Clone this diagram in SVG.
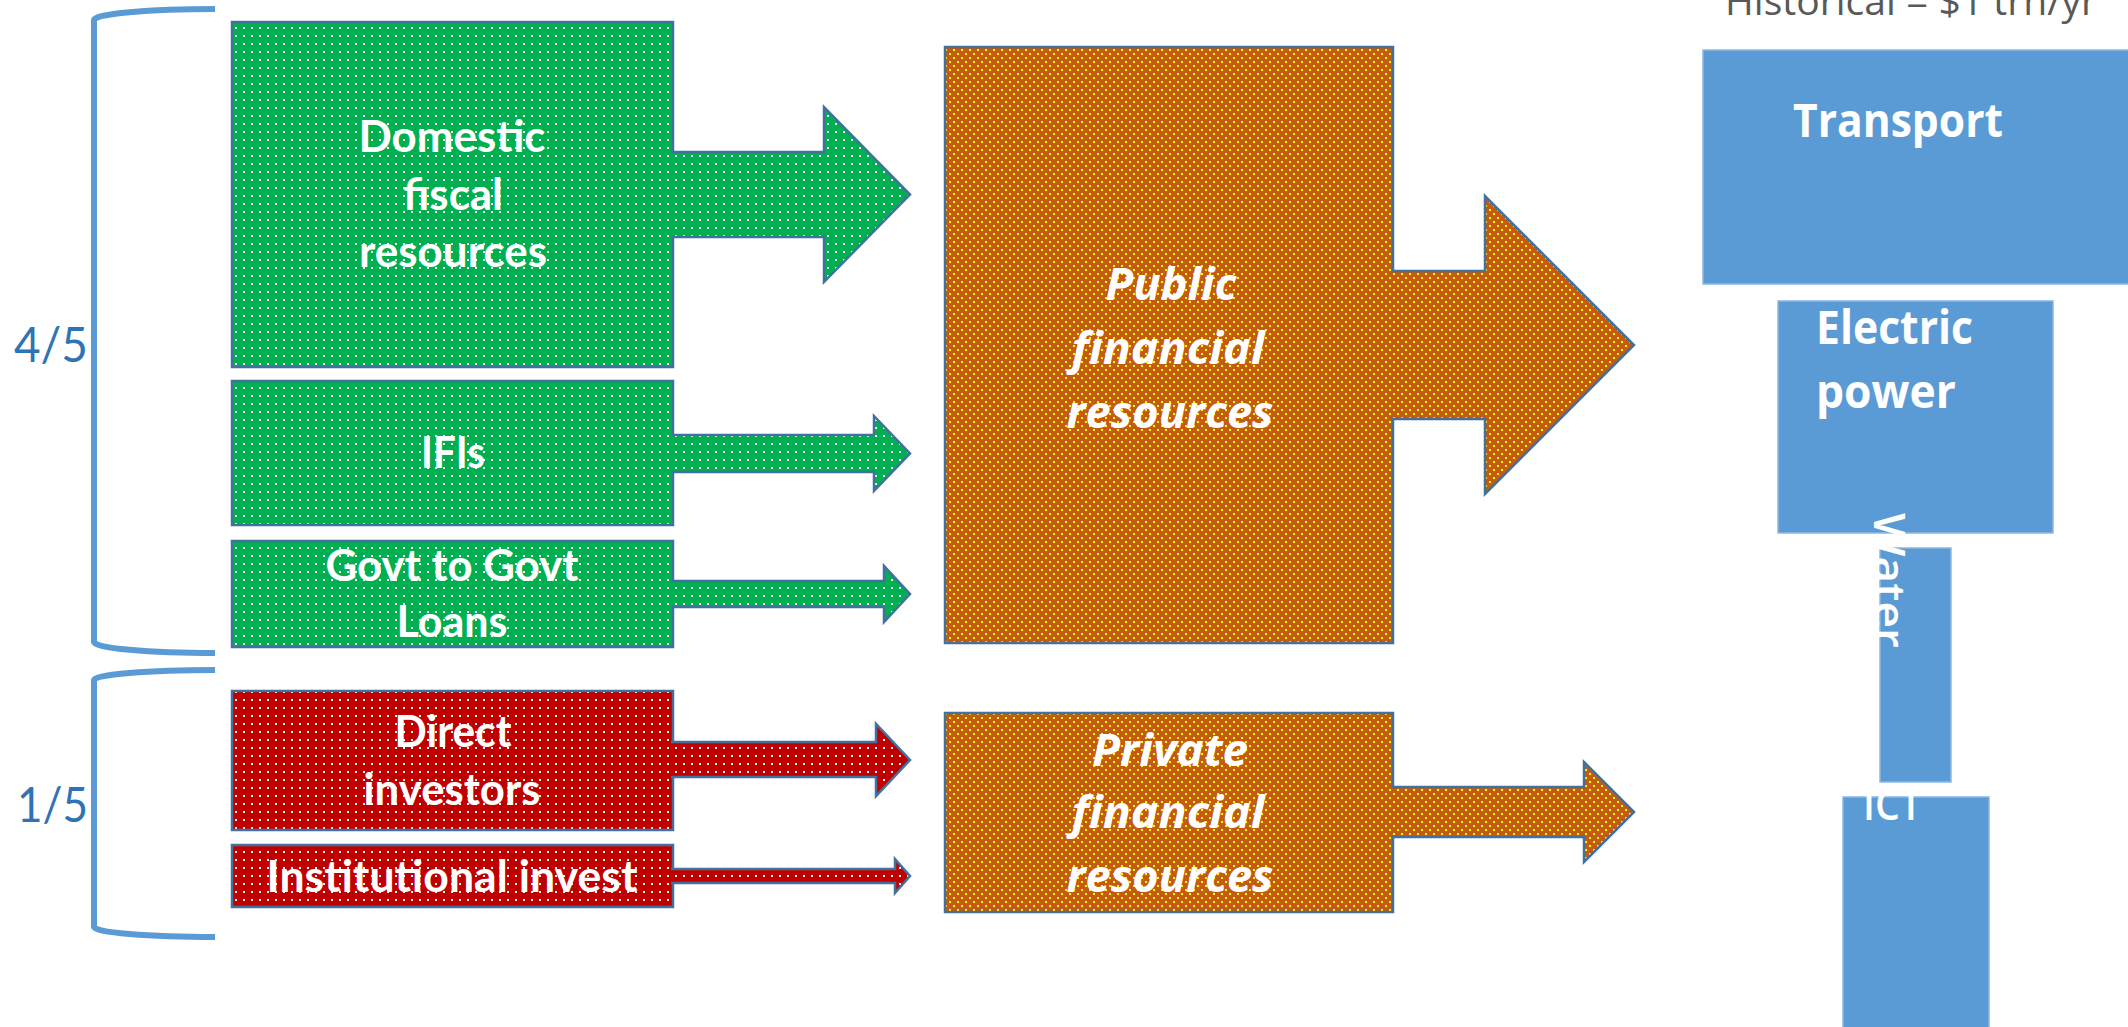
<svg xmlns="http://www.w3.org/2000/svg" width="2128" height="1027" viewBox="0 0 2128 1027">
<defs>
<pattern id="pGreen" width="8" height="8" patternUnits="userSpaceOnUse"><rect width="8" height="8" fill="#00B050"/><rect x="3" y="3" width="2" height="2" fill="#FFFFFF"/></pattern>
<pattern id="pRed" width="8" height="8" patternUnits="userSpaceOnUse"><rect width="8" height="8" fill="#C00000"/><rect x="3" y="3" width="2" height="2" fill="#FFFFFF"/></pattern>
<pattern id="pOrange" width="8" height="8" patternUnits="userSpaceOnUse"><rect width="8" height="8" fill="#C55A11"/><rect x="1" y="1" width="2" height="2" fill="#FFFF00"/><rect x="5" y="5" width="2" height="2" fill="#FFFF00"/></pattern>
</defs>
<style>
.box{stroke:#41719C;stroke-width:2.5}
.g{fill:url(#pGreen)}
.r{fill:url(#pRed)}
.o{fill:url(#pOrange)}
.arrow{stroke:#41719C;stroke-width:2.5;stroke-linejoin:miter}
.blue{fill:#5B9BD5;stroke:#8DB8E2;stroke-width:1.5}
.lt{font-family:Lato,"Liberation Sans",sans-serif;font-weight:700;font-size:44px;fill:#FFFFFF;text-anchor:middle}
.ot{font-family:"Open Sans","DejaVu Sans",sans-serif;font-weight:700;font-style:italic;font-size:44px;fill:#FFFFFF;text-anchor:middle}
.bt{font-family:"Open Sans","DejaVu Sans",sans-serif;font-weight:700;font-size:46px;fill:#FFFFFF}
.st{font-family:"Open Sans","DejaVu Sans",sans-serif;font-weight:600;font-size:44px;fill:#FFFFFF}
.frac{font-family:Lato,"Liberation Sans",sans-serif;font-weight:400;font-size:48px;fill:#2E74B5}
.brace{fill:none;stroke:#5B9BD5;stroke-width:6}
</style>
<rect width="2128" height="1027" fill="#FFFFFF"/>

<g id="bracket-public">
<path class="brace" d="M215,9 A121,11 0 0 0 94,20 L94,642 A121,11 0 0 0 215,653"/>
<text class="frac" x="14" y="362" textLength="74" lengthAdjust="spacingAndGlyphs">4/5</text>
</g>
<g id="bracket-private">
<path class="brace" d="M215,670 A121,10 0 0 0 94,680 L94,927 A121,10 0 0 0 215,937"/>
<text class="frac" x="17" y="822" textLength="71" lengthAdjust="spacingAndGlyphs">1/5</text>
</g>

<g id="domestic">
<rect class="box g" x="232" y="22" width="441" height="345"/>
<text class="lt" x="452" y="152" textLength="187" lengthAdjust="spacingAndGlyphs">Domestic</text>
<text class="lt" x="453" y="210" textLength="100" lengthAdjust="spacingAndGlyphs">fiscal</text>
<text class="lt" x="453" y="267" textLength="188" lengthAdjust="spacingAndGlyphs">resources</text>
</g>
<g id="ifis">
<rect class="box g" x="232" y="381" width="441" height="144"/>
<text class="lt" x="453" y="468" textLength="64" lengthAdjust="spacingAndGlyphs">IFIs</text>
</g>
<g id="govt">
<rect class="box g" x="232" y="541" width="441" height="106"/>
<text class="lt" x="452" y="581" textLength="253" lengthAdjust="spacingAndGlyphs">Govt to Govt</text>
<text class="lt" x="452" y="637" textLength="111" lengthAdjust="spacingAndGlyphs">Loans</text>
</g>
<g id="direct">
<rect class="box r" x="232" y="691" width="441" height="139"/>
<text class="lt" x="453" y="747" textLength="117" lengthAdjust="spacingAndGlyphs">Direct</text>
<text class="lt" x="452" y="805" textLength="177" lengthAdjust="spacingAndGlyphs">investors</text>
</g>
<g id="institutional">
<rect class="box r" x="232" y="845" width="441" height="62"/>
<text class="lt" x="452" y="892" textLength="371" lengthAdjust="spacingAndGlyphs">Institutional invest</text>
</g>

<g id="public">
<rect class="box o" x="945" y="47" width="448" height="596"/>
<text class="ot" x="1171" y="300" textLength="131" lengthAdjust="spacingAndGlyphs">Public</text>
<text class="ot" x="1168" y="364" textLength="193" lengthAdjust="spacingAndGlyphs">financial</text>
<text class="ot" x="1170" y="428" textLength="207" lengthAdjust="spacingAndGlyphs">resources</text>
</g>
<g id="private">
<rect class="box o" x="945" y="713" width="448" height="199"/>
<text class="ot" x="1170" y="766" textLength="156" lengthAdjust="spacingAndGlyphs">Private</text>
<text class="ot" x="1168" y="828" textLength="193" lengthAdjust="spacingAndGlyphs">financial</text>
<text class="ot" x="1170" y="892" textLength="207" lengthAdjust="spacingAndGlyphs">resources</text>
</g>

<g id="historical">
<text x="1725" y="15" font-family="'Open Sans','DejaVu Sans',sans-serif" font-size="38" fill="#595959" textLength="372" lengthAdjust="spacingAndGlyphs">Historical = $1 trn/yr</text>
</g>
<g id="transport">
<rect class="blue" x="1703" y="50" width="440" height="234"/>
<text class="bt" x="1793" y="137" textLength="210" lengthAdjust="spacingAndGlyphs">Transport</text>
</g>
<g id="electric">
<rect class="blue" x="1778" y="301" width="275" height="232"/>
<text class="bt" x="1816" y="344" textLength="157" lengthAdjust="spacingAndGlyphs">Electric</text>
<text class="bt" x="1816" y="408" textLength="140" lengthAdjust="spacingAndGlyphs">power</text>
</g>
<g id="water">
<rect class="blue" x="1880" y="548" width="71" height="234"/>
<text class="st" font-size="46" transform="translate(1874,513) rotate(90)" x="0" y="0" textLength="135" lengthAdjust="spacingAndGlyphs">Water</text>
</g>
<g id="ict">
<rect class="blue" x="1843" y="797" width="146" height="245"/>
<text class="st" x="1863" y="820" textLength="59" lengthAdjust="spacingAndGlyphs">ICT</text>
</g>

<g id="connectors">
<path class="arrow g" d="M671,152 H824 V107 L910,194.5 L824,282 V237 H671"/>
<path class="arrow g" d="M671,435 H874 V416 L910,453.5 L874,491 V472 H671"/>
<path class="arrow g" d="M671,581 H884 V566 L910,594 L884,622 V607 H671"/>
<path class="arrow r" d="M671,742 H876 V724 L910,760 L876,796 V777 H671"/>
<path class="arrow r" d="M671,869 H895 V859 L910,876 L895,893 V883 H671"/>
<path class="arrow o" d="M1391,271 H1485 V196 L1634,345 L1485,494 V419 H1391"/>
<path class="arrow o" d="M1391,787 H1584 V762 L1634,812 L1584,862 V837 H1391"/>
</g>
</svg>
